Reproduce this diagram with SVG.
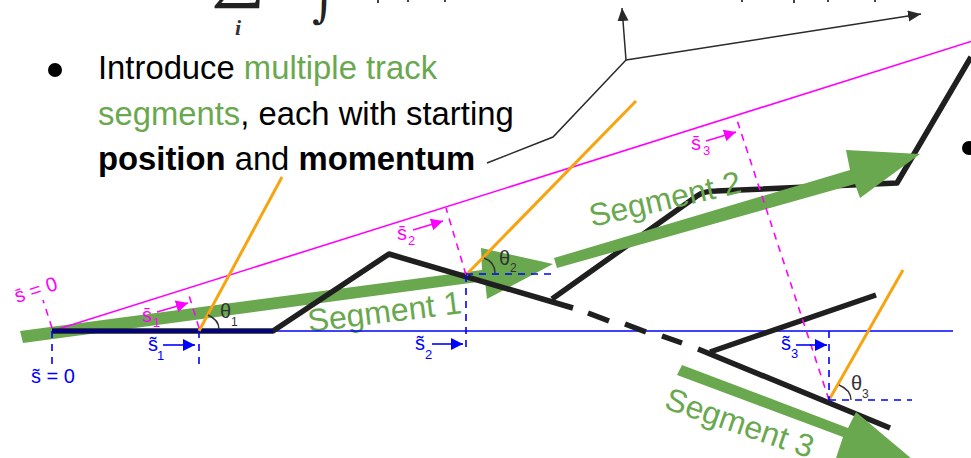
<svg xmlns="http://www.w3.org/2000/svg" width="971" height="458" viewBox="0 0 971 458">
<style>
text{font-family:"Liberation Sans",Arial,sans-serif}
.body{font-size:32.8px;fill:#000}
.gt{fill:#6aa84f}
.seg{font-size:32px;fill:#6aa84f}
.b{font-weight:bold}
.track{fill:none;stroke:#1f1f1f;stroke-width:5.5;stroke-linejoin:round}
.ga{fill:#6aa84f}
.or{stroke:#f6a40f;stroke-width:3;fill:none}
.mg{stroke:#ff00ff;fill:none}
.bl{stroke:#0000ff;fill:none}
.dash{stroke-width:1.6;stroke-dasharray:7 6}
.call{stroke:#2a2a2a;stroke-width:1.5;fill:none}
.arc{stroke:#333;stroke-width:1.4;fill:none}
.ml{font-size:20px;fill:#ff00ff}
.bll{font-size:20px;fill:#0000ff}
.subm{font-size:13px;fill:#ff00ff}
.subb{font-size:13px;fill:#0000ff}
.th{font-size:20px;fill:#333}
.subt{font-size:12px;fill:#333}
</style>
<defs>
<marker id="ab" markerUnits="userSpaceOnUse" markerWidth="13" markerHeight="12" refX="12" refY="6" orient="auto"><path d="M0 0L12 6L0 12Z" fill="#0000ff"/></marker>
<marker id="am" markerUnits="userSpaceOnUse" markerWidth="13" markerHeight="12" refX="12" refY="6" orient="auto"><path d="M0 0L12 6L0 12Z" fill="#ff00ff"/></marker>
<marker id="ak" markerUnits="userSpaceOnUse" markerWidth="14" markerHeight="12" refX="13" refY="5.5" orient="auto"><path d="M0 0L13 5.5L0 11Z" fill="#2a2a2a"/></marker>
</defs>
<rect width="971" height="458" fill="#fff"/>

<g id="math">
<text x="211" y="-5" font-size="62" style="font-family:'Liberation Serif',serif" fill="#222" textLength="54" lengthAdjust="spacingAndGlyphs">∑</text>
<text x="235" y="35" font-size="22" font-style="italic" font-weight="bold" style="font-family:'Liberation Serif',serif" fill="#333">i</text>
<text x="312" y="17" font-size="46" font-style="italic" style="font-family:'DejaVu Serif',serif" fill="#222">∫</text>
<path d="M378 0v3M408 0v2M445 0v2M742 0v2M794 0v3M828 0v2M875 0v2" stroke="#444" stroke-width="2" fill="none"/>
</g>

<g id="text-block">
<circle cx="55" cy="70" r="7" fill="#000"/>
<text class="body" x="98" y="79">Introduce <tspan class="gt">multiple track</tspan></text>
<text class="body" x="98" y="125"><tspan class="gt">segments</tspan>, each with starting</text>
<text class="body" x="98" y="170"><tspan class="b">position</tspan> and <tspan class="b">momentum</tspan></text>
<circle cx="969" cy="148" r="7" fill="#000"/>
</g>

<g id="segment-1">
<path class="ga" d="M20 331L482 270L481 248L553 264L487 299L485 281L23 343Z"/>
<text class="seg" transform="translate(309 332) rotate(-7)">Segment 1</text>
</g>

<g id="connectors">
<path class="call" d="M487 163L553 137L626 60L622 8" marker-end="url(#ak)"/>
<path class="call" d="M626 60L921 14" marker-end="url(#ak)"/>
<path id="blue-axis" class="bl" stroke-width="1.6" d="M52 331H953"/>
<path id="magenta-axis" class="mg" stroke-width="1.6" d="M52 331L971 41.5"/>
</g>

<g id="tracks">
<path class="track" d="M52 331H273L389 254L573 308"/>
<path class="track" d="M552 299L697 196Q704 191 716 191L897 183L971 57"/>
<path class="track" d="M588 313L609 321M625 324L646 332M662 336L682 343"/>
<path class="track" d="M698 349L890 428"/>
<path class="track" d="M710 352L876 295"/>
<path d="M52 331H273" stroke="#000088" stroke-width="3.5" fill="none"/>
</g>

<g id="orange-lines">
<path class="or" d="M199 331L282 177"/>
<path class="or" d="M466 275L636 101"/>
<path class="or" d="M829 400L903 270"/>
</g>

<g id="segment-2">
<path class="ga" d="M554 258L850 170L846 150L920 154L860 198L855 184L557 268Z"/>
<text class="seg" transform="translate(592 227) rotate(-13)">Segment 2</text>
</g>
<g id="segment-3">
<path class="ga" d="M682 365L848 428L856 412L925 470L836 458L843 437L677 375Z"/>
<text class="seg" transform="translate(663 408) rotate(19)">Segment 3</text>
</g>

<g id="guides">
<path class="mg dash" d="M52 328L43 300"/>
<path class="mg dash" d="M199 328L188 292"/>
<path class="mg dash" d="M466 275L446 208"/>
<path class="mg dash" d="M829 400L737 120"/>
<path class="bl dash" d="M52 331V366"/>
<path class="bl dash" d="M199 331V367"/>
<path class="bl dash" d="M466 275V353"/>
<path class="bl dash" d="M829 331V400"/>
<path class="bl dash" d="M466 274H552"/>
<path class="bl dash" d="M829 400H912"/>
<path class="bl" stroke-width="1.6" d="M163 345H195" marker-end="url(#ab)"/>
<path class="bl" stroke-width="1.6" d="M432 344H463" marker-end="url(#ab)"/>
<path class="bl" stroke-width="1.6" d="M796 345H827" marker-end="url(#ab)"/>
<path class="mg" stroke-width="1.6" d="M157 312L188 303" marker-end="url(#am)"/>
<path class="mg" stroke-width="1.6" d="M413 230L443 221" marker-end="url(#am)"/>
<path class="mg" stroke-width="1.6" d="M706 141L736 132" marker-end="url(#am)"/>
<path class="arc" d="M208 315Q219 320 219 329"/>
<path class="arc" d="M484 258Q495 262 495 273"/>
<path class="arc" d="M839 385Q851 390 851 400"/>
</g>

<g id="labels">
<text class="ml" transform="translate(17 303) rotate(-18)">s̄ = 0</text>
<text class="bll" x="31" y="383">s̃ = 0</text>
<text class="ml" x="142" y="322">s̄</text><text class="subm" x="153" y="327">1</text>
<text class="ml" x="397" y="240">s̄</text><text class="subm" x="408" y="245">2</text>
<text class="ml" x="691" y="150">s̄</text><text class="subm" x="703" y="155">3</text>
<text class="bll" x="148" y="351">s̃</text><text class="subb" x="157" y="360">1</text>
<text class="bll" x="415" y="350">s̃</text><text class="subb" x="425" y="359">2</text>
<text class="bll" x="781" y="350">s̃</text><text class="subb" x="791" y="358">3</text>
<text class="th" x="220" y="318">θ</text><text class="subt" x="231" y="326">1</text>
<text class="th" x="499" y="265">θ</text><text class="subt" x="510" y="272">2</text>
<text class="th" x="851" y="390">θ</text><text class="subt" x="862" y="398">3</text>
</g>
</svg>
